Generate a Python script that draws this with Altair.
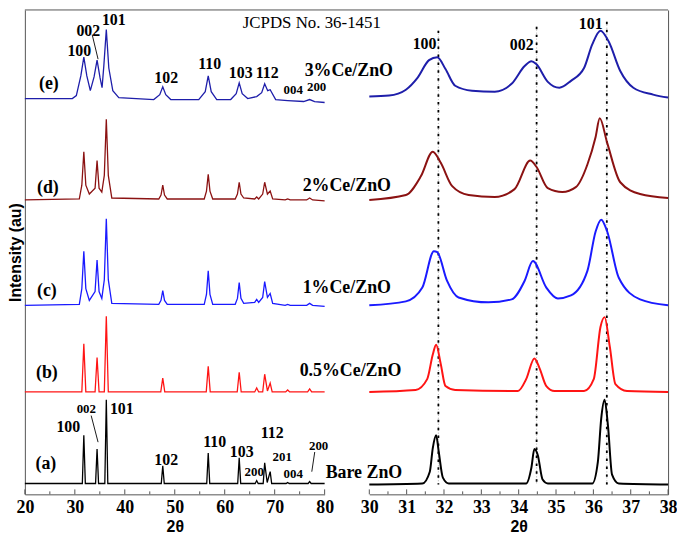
import altair as alt
import pandas as pd

# ---------------- series ----------------
series = ["Bare ZnO", "0.5%Ce/ZnO", "1%Ce/ZnO", "2%Ce/ZnO", "3%Ce/ZnO"]
colors = ["#000000", "#ff1414", "#1a1aff", "#8b1212", "#1e1eaa"]

# ---------------- left panel: full pattern 20-80 (offset intensities, a.u.) ----------------
xa = [20, 31.5, 31.8, 32.1, 34.15, 34.45, 34.75, 36.0, 36.3, 36.6, 47.3, 47.6, 47.9, 56.4, 56.7, 57.0,
      62.6, 62.9, 63.2, 66.1, 66.4, 66.7, 67.7, 68.0, 68.5, 69.1, 69.4, 72.3, 72.6, 72.9, 76.7, 77.0, 77.3, 80]
va = [11, 11, 60, 11, 11, 46, 11, 11, 96, 11, 11, 29, 11, 11, 42, 11,
      11, 37, 11, 11, 14, 11, 11, 32, 12, 23, 11, 11, 12, 11, 11, 13, 11, 11]

xb = [20, 31.4, 31.8, 32.2, 34.05, 34.45, 34.85, 35.9, 36.3, 36.7, 47.2, 47.6, 48.0, 56.3, 56.7, 57.1,
      62.5, 62.9, 63.3, 66.0, 66.4, 66.8, 67.6, 68.0, 68.55, 69.1, 69.5, 72.2, 72.6, 73.0, 76.6, 77.0, 77.4, 80]
vb = [104, 104, 153, 104, 104, 139, 104, 104, 181, 104, 104, 118, 104, 104, 130, 104,
      104, 124, 104, 104, 108, 104, 104, 122, 105, 113, 104, 104, 106, 104, 104, 107, 104, 104]

xc = [20, 30.9, 31.4, 31.8, 32.2, 32.9, 34.05, 34.45, 34.85, 35.4, 35.9, 36.3, 36.7, 37.4,
      46.8, 47.25, 47.6, 47.95, 48.5, 55.9, 56.35, 56.7, 57.05, 57.6, 62.1, 62.55, 62.9, 63.25, 63.8,
      66.0, 66.4, 66.8, 67.6, 68.0, 68.55, 69.1, 69.6, 72.1, 72.6, 73.1, 76.4, 77.0, 77.6, 80]
vc = [192, 193, 209, 247, 209, 197, 206, 238, 206, 199, 218, 280, 218, 194,
      193, 197, 207, 197, 193, 193, 203, 227, 203, 193, 193, 199, 215, 199, 194,
      195, 198, 195, 200, 216, 200, 204, 194, 192, 193, 192, 192, 194, 192, 191]

xd = xc
vd = [299, 300, 314, 348, 314, 305, 311, 339, 311, 307, 324, 381, 324, 301,
      300, 304, 314, 304, 300, 300, 308, 325, 308, 300, 300, 305, 317, 305, 301,
      300, 302, 300, 305, 317, 305, 308, 300, 299, 300, 299, 299, 301, 299, 298]

xe = [20, 29.5, 30.3, 31.2, 31.8, 32.4, 33.1, 33.85, 34.45, 35.05, 35.45, 35.8, 36.3, 36.8, 37.6, 38.8,
      45.8, 47.0, 47.6, 48.2, 49.2, 54.8, 56.1, 56.7, 57.3, 58.4, 61.2, 62.3, 62.9, 63.5, 64.6,
      66.4, 67.4, 68.0, 68.6, 69.1, 70.2, 72.6, 75.8, 77.0, 78.0, 80]
ve = [402, 402, 405, 425, 444, 425, 410, 424, 441, 423, 413, 435, 472, 433, 410, 403,
      401, 406, 414, 406, 401, 401, 409, 425, 409, 401, 401, 407, 418, 407, 402,
      404, 408, 417, 410, 411, 401, 400, 399, 401, 399, 398]

# ---------------- right panel: zoom 30-38 ----------------
rxa = [30.0, 31.42, 31.62, 31.70, 31.79, 31.86, 31.97, 32.13, 34.20, 34.34, 34.42, 34.51, 34.64, 34.78,
       35.97, 36.12, 36.21, 36.30, 36.39, 36.50, 36.68, 38.0]
rva = [10, 11, 23, 47, 60, 43, 17, 11, 11, 27, 46, 40, 15, 11, 11, 33, 77, 96, 70, 20, 11, 10]

rxb = [30.0, 31.24, 31.55, 31.70, 31.79, 31.91, 32.04, 32.30, 33.98, 34.20, 34.42, 34.56, 34.74, 34.96,
       35.75, 36.01, 36.19, 36.30, 36.44, 36.59, 36.90, 38.0]
rvb = [104, 106, 117, 142, 152, 133, 110, 106, 105, 117, 138, 128, 110, 105, 105, 117, 170, 180, 150, 112, 105, 104]

rxc = [30.0, 30.98, 31.42, 31.73, 31.82, 32.08, 32.39, 33.19, 33.81, 34.16, 34.38, 34.74, 35.05, 35.40,
       35.84, 36.06, 36.21, 36.37, 36.68, 37.25, 38.0]
rvc = [192, 196, 210, 247, 246, 217, 200, 195, 198, 217, 237, 210, 199, 202, 227, 267, 279, 267, 220, 198, 192]

rxd = [30.0, 30.98, 31.38, 31.70, 31.91, 32.22, 32.66, 33.36, 33.89, 34.31, 34.47, 34.78, 35.17, 35.53,
       35.84, 36.06, 36.17, 36.37, 36.72, 37.25, 38.0]
rvd = [299, 304, 323, 348, 337, 313, 304, 302, 310, 339, 333, 311, 307, 312, 335, 363, 382, 357, 317, 305, 301]

rxe = [30.0, 30.53, 30.98, 31.29, 31.6, 31.82, 32.04, 32.30, 32.75, 33.36, 33.81, 34.16, 34.34, 34.47,
       34.78, 35.09, 35.40, 35.75, 35.97, 36.19, 36.41, 36.72, 37.07, 37.60, 38.0]
rve = [404, 405, 411, 423, 441, 444, 432, 415, 410, 409, 417, 435, 440, 437,
       419, 413, 420, 433, 457, 471, 460, 430, 413, 406, 403]

# reference lines (JCPDS 36-1451 positions) in the zoom panel
ref_x = [31.85, 34.48, 36.36]
ref_top = [471, 475, 480]
ref_bottom = [10, 10, 10]

# ---------------- annotations ----------------
peak_txt = ["100", "002", "101", "102", "110", "103", "112",
            "100", "101", "102", "110", "103", "112"]
peak_x = [30.9, 32.7, 37.8, 48.3, 57.0, 63.2, 68.5,
          28.7, 39.4, 48.3, 58.0, 63.4, 69.5]
peak_v = [450, 471, 482, 423, 437, 428, 428,
          68, 87, 35, 53, 43, 62]

small_txt = ["004", "200", "002", "200", "201", "004", "200"]
small_x = [73.7, 78.4, 32.3, 65.9, 71.5, 73.7, 78.8]
small_v = [411, 414, 87, 23, 38, 21, 49]

letter_txt = ["(a)", "(b)", "(c)", "(d)", "(e)"]
letter_x = [24.2, 24.4, 24.4, 24.6, 24.8]
letter_v = [31, 123, 207, 311, 417]

name_x = [80.2, 75.0, 75.6, 75.6, 76.0]
name_v = [22, 125, 210, 313, 430]

jcpds_txt = ["JCPDS No. 36-1451"]
jcpds_x = [63.6]
jcpds_v = [479]

lead_x1 = [33.47, 33.27, 78.02]
lead_v1 = [467, 80, 43]
lead_x2 = [34.65, 34.65, 77.43]
lead_v2 = [442, 53, 23]

zoom_txt = ["100", "002", "101"]
zoom_x = [31.48, 34.08, 35.93]
zoom_v = [457, 456, 478]

left_major = [20, 30, 40, 50, 60, 70, 80]
left_minor = [25, 35, 45, 55, 65, 75]
right_major = [30, 31, 32, 33, 34, 35, 36, 37, 38]
right_minor = [30.5, 31.5, 32.5, 33.5, 34.5, 35.5, 36.5, 37.5]

# ---------------- build tables ----------------
def long_df(xs_list, vs_list):
    rows = []
    for name, xs, vs in zip(series, xs_list, vs_list):
        for i, (x, v) in enumerate(zip(xs, vs)):
            rows.append({"s": name, "x": x, "v": v, "i": i})
    return pd.DataFrame(rows)

left_df = long_df([xa, xb, xc, xd, xe], [va, vb, vc, vd, ve])
right_df = long_df([rxa, rxb, rxc, rxd, rxe], [rva, rvb, rvc, rvd, rve])

W, H = 648, 488
LW, RX0 = 302, 347
YMAX = 492
SERIF = "Liberation Serif"
SANS = "Liberation Sans"
FRAME = "#555555"

color = alt.Color("s:N", scale=alt.Scale(domain=series, range=colors), legend=None)


def xaxis(vals):
    return alt.Axis(values=vals, title="2θ", orient="bottom", grid=False, ticks=False, domainColor=FRAME,
                    labelFont=SERIF, labelFontWeight="bold", labelFontSize=18, labelColor="black",
                    labelPadding=4, labelFlush=False, labelOverlap=False,
                    titleFont=SANS, titleFontWeight="bold", titleFontSize=16, titleColor="black",
                    titlePadding=2)


lscale = alt.Scale(domain=[20, 80], range=[0, LW], nice=False, zero=False)
rscale = alt.Scale(domain=[30, 38], range=[RX0, W], nice=False, zero=False)
yscale = alt.Scale(domain=[0, YMAX], nice=False, zero=False)

LX = alt.X("x:Q", scale=lscale, axis=xaxis(left_major))
RX = alt.X("x:Q", scale=rscale, axis=xaxis(right_major))
LY = alt.Y("v:Q", scale=yscale,
           axis=alt.Axis(orient="left", title="Intensity (au)", labels=False, ticks=False, grid=False,
                         domainColor=FRAME, titleFont=SANS, titleFontWeight="bold", titleFontSize=16,
                         titleColor="black", titlePadding=1))
RY = alt.Y("v:Q", scale=yscale,
           axis=alt.Axis(orient="right", title="", labels=False, ticks=False, grid=False,
                         domainColor=FRAME))


def text_layer(txt, xs, vs, X, Y, size, weight="bold", align="center"):
    df = pd.DataFrame({"t": txt, "x": xs, "v": vs})
    return alt.Chart(df).mark_text(font=SERIF, fontWeight=weight, fontSize=size, color="black",
                                   align=align, baseline="middle").encode(x=X, y=Y, text="t:N")


def tick_layer(vals, X, Y, length):
    return alt.Chart(pd.DataFrame({"x": vals})).mark_rule(color=FRAME).encode(
        x=X, y=alt.value(H), y2=alt.value(H - length))

# ----- left panel -----
left_lines = alt.Chart(left_df).mark_line(strokeWidth=1.3, interpolate="linear").encode(
    x=LX, y=LY, color=color, order="i:Q", detail="s:N")

top_border = alt.Chart(pd.DataFrame({"k": [0]})).mark_rule(color=FRAME).encode(
    x=alt.value(0), x2=alt.value(W), y=alt.value(0))

lead_df = pd.DataFrame({"x": lead_x1, "v": lead_v1, "x2": lead_x2, "v2": lead_v2})
leaders = alt.Chart(lead_df).mark_rule(color="black", strokeWidth=0.9).encode(
    x=LX, y=LY, x2="x2:Q", y2="v2:Q")

left = alt.layer(
    left_lines,
    tick_layer(left_major, LX, LY, 5),
    tick_layer(left_minor, LX, LY, 3),
    top_border,
    leaders,
    text_layer(peak_txt, peak_x, peak_v, LX, LY, 16),
    text_layer(small_txt, small_x, small_v, LX, LY, 13),
    text_layer(letter_txt, letter_x, letter_v, LX, LY, 18),
    text_layer(series, name_x, name_v, LX, LY, 18, align="left"),
    text_layer(jcpds_txt, jcpds_x, jcpds_v, LX, LY, 17, weight="normal", align="left"),
)

# ----- right panel -----
ref_df = pd.DataFrame({"x": ref_x, "v": ref_top, "v2": ref_bottom})
ref_gray = alt.Chart(ref_df).mark_rule(color="#9a9a9a", strokeWidth=0.8, strokeDash=[1, 2]).encode(
    x=RX, y=RY, y2="v2:Q")
ref_black = alt.Chart(ref_df).mark_rule(color="black", strokeWidth=1.8, strokeDash=[2.5, 5.5]).encode(
    x=RX, y=RY, y2="v2:Q")

right_lines = alt.Chart(right_df).mark_line(strokeWidth=2, interpolate="monotone").encode(
    x=RX, y=RY, color=color, order="i:Q", detail="s:N")

right = alt.layer(
    ref_gray,
    ref_black,
    right_lines,
    tick_layer(right_major, RX, RY, 5),
    tick_layer(right_minor, RX, RY, 3),
    text_layer(zoom_txt, zoom_x, zoom_v, RX, RY, 16),
)

chart = alt.layer(left, right).resolve_scale(x="independent", y="independent").properties(
    width=W, height=H,
    autosize=alt.AutoSizeParams(type="none"),
    padding={"left": 17, "top": 0, "right": 9, "bottom": 40},
    background="white",
).configure_view(stroke="transparent")

chart.save("out.html", embed_options={"renderer": "svg", "actions": False})
